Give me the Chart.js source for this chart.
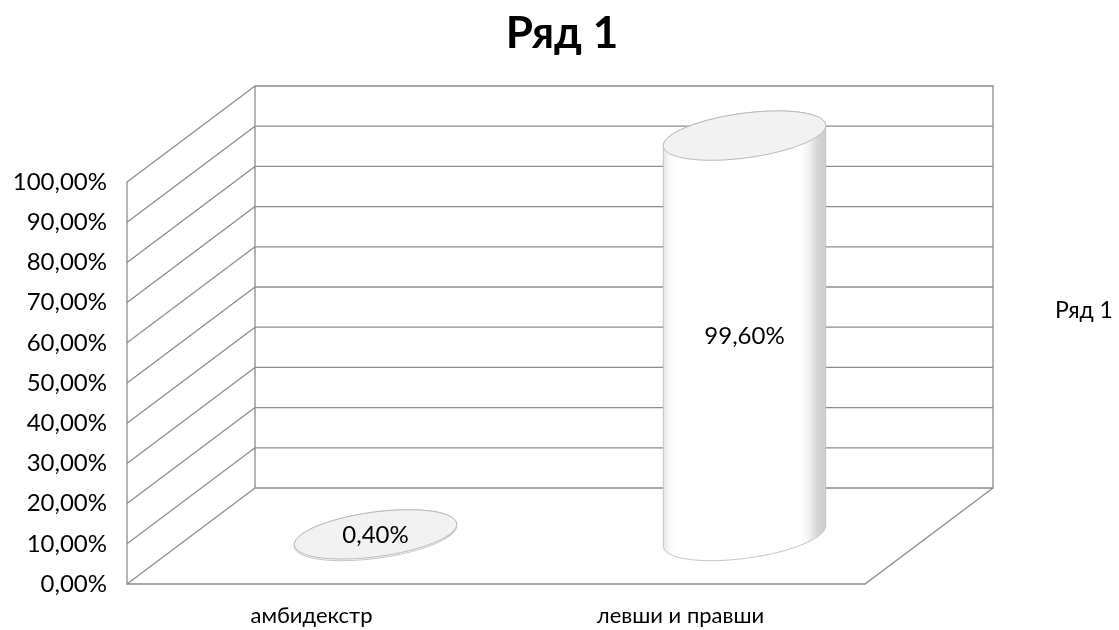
<!DOCTYPE html>
<html>
<head>
<meta charset="utf-8">
<script src="https://cdn.jsdelivr.net/npm/chart.js@4.4.1/dist/chart.umd.min.js"></script>
<style>
html,body{margin:0;padding:0;background:#fff;}
#wrap{width:1119px;height:630px;position:relative;}
</style>
</head>
<body>
<div id="wrap"><canvas id="c" width="1119" height="630"></canvas></div>
<script>
const categories = ['амбидекстр', 'левши и правши'];
const seriesName = 'Ряд 1';
const seriesValues = [0.004, 0.996];
const yTicks = [0, 0.1, 0.2, 0.3, 0.4, 0.5, 0.6, 0.7, 0.8, 0.9, 1.0];

const FONT = "Lato, 'Noto Sans', 'DejaVu Sans', sans-serif";
const DEPTH_X = 128, DEPTH_Y = -96;
const LINE = '#8c8c8c';

function fmtPct(v, d) {
  return (v * 100).toFixed(d).replace('.', ',') + '%';
}

const plot3d = {
  id: 'plot3d',
  beforeDatasetsDraw(chart) {
    const ctx = chart.ctx;
    const y = chart.scales.y;
    const L = chart.chartArea.left, R = chart.chartArea.right;
    const y0 = y.getPixelForValue(0), yTop = y.getPixelForValue(1);
    ctx.save();
    ctx.strokeStyle = LINE;
    ctx.lineWidth = 1.3;
    ctx.beginPath();
    ctx.rect(L + DEPTH_X, yTop + DEPTH_Y, R - L, y0 - yTop);
    yTicks.forEach(v => {
      const py = y.getPixelForValue(v);
      ctx.moveTo(L + DEPTH_X, py + DEPTH_Y);
      ctx.lineTo(R + DEPTH_X, py + DEPTH_Y);
      ctx.moveTo(L, py);
      ctx.lineTo(L + DEPTH_X, py + DEPTH_Y);
    });
    ctx.moveTo(L, yTop);
    ctx.lineTo(L, y0);
    ctx.lineTo(R, y0);
    ctx.lineTo(R + DEPTH_X, y0 + DEPTH_Y);
    ctx.stroke();
    ctx.restore();
  },
  afterDatasetsDraw(chart) {
    const ctx = chart.ctx;
    const meta = chart.getDatasetMeta(0);
    const ds = chart.data.datasets[0];
    meta.data.forEach((el, i) => {
      const cx = el.x + DEPTH_X / 2;
      const topCy = el.y + DEPTH_Y / 2;
      const botCy = el.base + DEPTH_Y / 2;
      const rx = el.width / 2;
      const k = -0.125;
      const ry = rx * 0.277;
      const pt = (cy, t) => [cx + rx * Math.cos(t), cy + ry * Math.sin(t) + k * rx * Math.cos(t)];
      ctx.save();
      if (botCy - topCy > 0.5) {
        const g = ctx.createLinearGradient(cx - rx, 0, cx + rx, 0);
        g.addColorStop(0, '#e6e6e6');
        g.addColorStop(0.04, '#fbfbfb');
        g.addColorStop(0.1, '#ffffff');
        g.addColorStop(0.84, '#ffffff');
        g.addColorStop(0.9, '#f0f0f0');
        g.addColorStop(0.95, '#d6d6d6');
        g.addColorStop(1, '#cccccc');
        ctx.beginPath();
        let p = pt(topCy, Math.PI);
        ctx.moveTo(p[0], p[1]);
        p = pt(botCy, Math.PI);
        ctx.lineTo(p[0], p[1]);
        for (let s = 0; s <= 60; s++) {
          p = pt(botCy, Math.PI - Math.PI * s / 60);
          ctx.lineTo(p[0], p[1]);
        }
        p = pt(topCy, 0);
        ctx.lineTo(p[0], p[1]);
        for (let s = 0; s <= 60; s++) {
          p = pt(topCy, -Math.PI * s / 60);
          ctx.lineTo(p[0], p[1]);
        }
        ctx.closePath();
        ctx.fillStyle = g;
        ctx.fill();
        ctx.strokeStyle = '#c4c4c4';
        ctx.lineWidth = 1;
        ctx.stroke();
      }
      ctx.beginPath();
      for (let s = 0; s <= 120; s++) {
        const p = pt(topCy, 2 * Math.PI * s / 120);
        if (s === 0) ctx.moveTo(p[0], p[1]); else ctx.lineTo(p[0], p[1]);
      }
      ctx.closePath();
      ctx.fillStyle = '#f2f2f2';
      ctx.fill();
      ctx.strokeStyle = '#b8b8b8';
      ctx.lineWidth = 1;
      ctx.stroke();
      ctx.fillStyle = '#000';
      ctx.font = '24px ' + FONT;
      ctx.textAlign = 'center';
      ctx.textBaseline = 'middle';
      ctx.fillText(fmtPct(ds.data[i], 2), cx, (topCy + botCy) / 2);
      ctx.restore();
    });
    ctx.save();
    ctx.fillStyle = '#000';
    ctx.font = '23px ' + FONT;
    ctx.textAlign = 'left';
    ctx.textBaseline = 'middle';
    ctx.fillText(seriesName, 1055, 311);
    ctx.restore();
  }
};

new Chart(document.getElementById('c'), {
  type: 'bar',
  data: {
    labels: categories,
    datasets: [{
      label: seriesName,
      data: seriesValues,
      backgroundColor: 'rgba(0,0,0,0)',
      borderWidth: 0,
      barPercentage: 0.44,
      categoryPercentage: 1.0
    }]
  },
  options: {
    responsive: false,
    animation: false,
    devicePixelRatio: 1,
    layout: { padding: { left: 5, right: 0, top: 0, bottom: 0 } },
    plugins: {
      legend: { display: false },
      tooltip: { enabled: false },
      title: {
        display: true,
        text: seriesName,
        color: '#000',
        font: { family: FONT, size: 44, weight: 'bold' },
        padding: { top: 7, bottom: 122.2 }
      }
    },
    scales: {
      x: {
        grid: { display: false, drawTicks: false },
        border: { display: false },
        ticks: { color: '#000', font: { family: FONT, size: 22 }, padding: 19 },
        afterFit(s) { s.height = 46; }
      },
      y: {
        min: 0, max: 1,
        grid: { display: false, drawTicks: false },
        border: { display: false },
        afterBuildTicks(s) { s.ticks = yTicks.map(v => ({ value: v })); },
        ticks: {
          color: '#000',
          font: { family: FONT, size: 24 },
          padding: 20,
          callback: v => fmtPct(v, 2)
        },
        afterFit(s) { s.width = 122; }
      },
      yR: {
        position: 'right',
        display: true,
        grid: { display: false, drawTicks: false },
        border: { display: false },
        ticks: { display: false },
        afterFit(s) { s.width = 254; }
      }
    }
  },
  plugins: [plot3d]
});
</script>
</body>
</html>
